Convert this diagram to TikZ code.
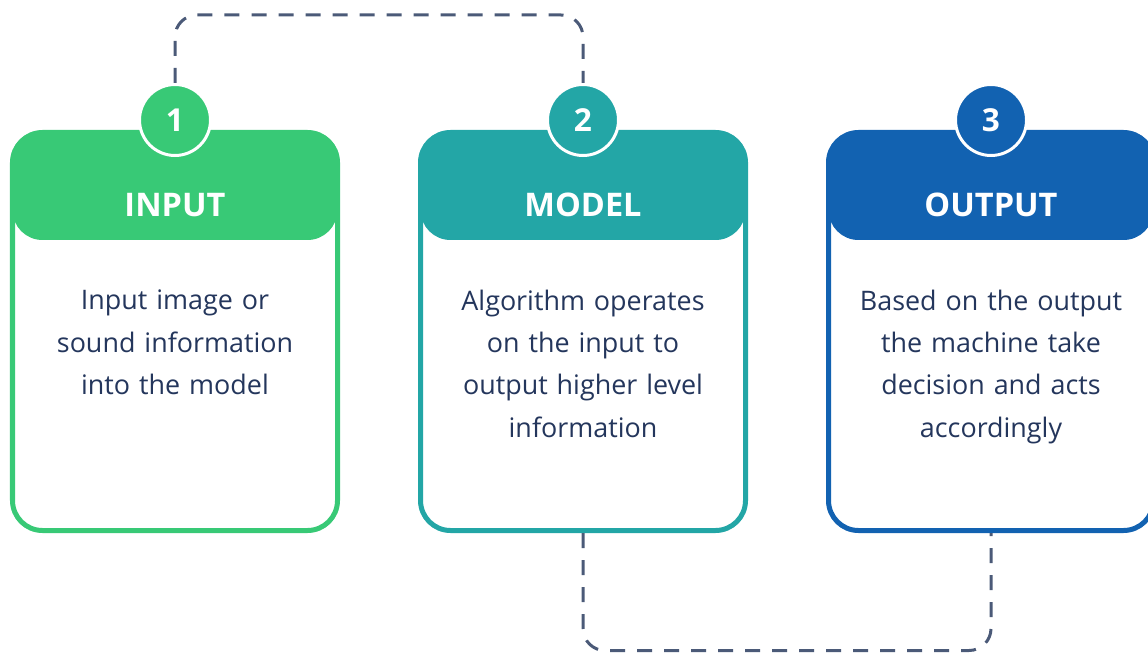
\documentclass[tikz,border=0pt]{standalone}
\usepackage{fontspec}
\setmainfont{Open Sans}
\definecolor{cgreen}{HTML}{38C976}
\definecolor{cteal}{HTML}{23A6A6}
\definecolor{cblue}{HTML}{1262B1}
\definecolor{ctext}{HTML}{24365C}
\definecolor{cdash}{HTML}{4B5A78}

\tikzset{
  card/.style={rectangle, rounded corners=0.6cm, draw=#1, line width=0.1cm, fill=white,
    minimum width=6.5cm, minimum height=7.96cm,
    path picture={\fill[#1] (path picture bounding box.north west) rectangle ([yshift=-2.15cm]path picture bounding box.north east);}},
  num/.style={circle, fill=#1, draw=white, line width=0.06cm, minimum size=1.42cm, inner sep=0pt,
    text=white, font=\fontsize{18}{20}\selectfont\bfseries},
  head/.style={text=white, font=\fontsize{18.5}{22}\selectfont\bfseries},
  body/.style={anchor=north, text=ctext, align=center, text width=6.4cm,
    font=\fontsize{15.3}{24}\selectfont},
  link/.style={draw=cdash, line width=0.06cm, dash pattern=on 0.3cm off 0.24cm, rounded corners=0.44cm}
}

\begin{document}
\begin{tikzpicture}
    \useasboundingbox (0,0) rectangle (22.96,13.04);

    \node[card=cgreen] (input) at (3.5,6.41) {};
    \node[card=cteal] (model) at (11.66,6.41) {};
    \node[card=cblue] (output) at (19.82,6.41) {};

    \node[head] at (3.5,8.94) {INPUT};
    \node[head] at (11.66,8.94) {MODEL};
    \node[head] at (19.82,8.94) {OUTPUT};

    \node[num=cgreen] (n1) at (3.5,10.64) {1};
    \node[num=cteal] (n2) at (11.66,10.64) {2};
    \node[num=cblue] (n3) at (19.82,10.64) {3};

    \node[body] at (3.5,7.36) {Input image or\\sound information\\into the model};
    \node[body] at (11.66,7.36) {Algorithm operates\\on the input to\\output higher level\\information};
    \node[body] at (19.82,7.36) {Based on the output\\the machine take\\decision and acts\\accordingly};

    \draw[link] (n1.north) -- ++(0,1.36) -| (n2.north);
    \draw[link] (model.south) -- ++(0,-2.35) -| (output.south);
\end{tikzpicture}
\end{document}
